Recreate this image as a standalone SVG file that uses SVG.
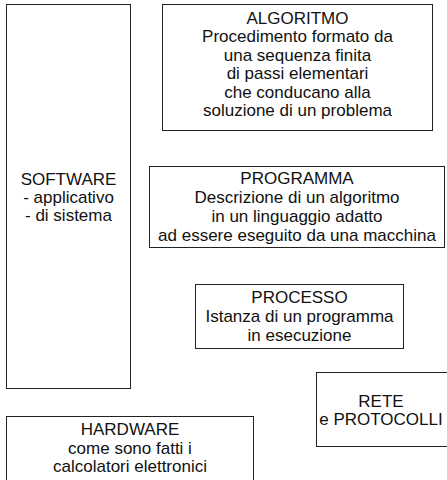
<svg xmlns="http://www.w3.org/2000/svg" width="447" height="480" viewBox="0 0 447 480">
<style>
rect{fill:#fff;stroke:#222;stroke-width:1}
text{font-family:"Liberation Sans",Arial,sans-serif;font-size:17px;fill:#111;text-anchor:middle}
</style>
<rect x="0" y="0" width="447" height="480" style="stroke:none"/>
<g id="software">
<rect x="6.5" y="4.5" width="124" height="384"/>
<text x="68.5" y="185">SOFTWARE</text>
<text x="68.5" y="203">- applicativo</text>
<text x="68.5" y="221">- di sistema</text>
</g>
<g id="algoritmo">
<rect x="162.5" y="4.5" width="270" height="126"/>
<text x="297.5" y="23.5">ALGORITMO</text>
<text x="297.5" y="42">Procedimento formato da</text>
<text x="297.5" y="60.5">una sequenza finita</text>
<text x="297.5" y="79">di passi elementari</text>
<text x="297.5" y="97.5">che conducano alla</text>
<text x="297.5" y="116">soluzione di un problema</text>
</g>
<g id="programma">
<rect x="149.5" y="166.5" width="295" height="81"/>
<text x="297" y="184">PROGRAMMA</text>
<text x="297" y="203">Descrizione di un algoritmo</text>
<text x="297" y="222">in un linguaggio adatto</text>
<text x="297" y="241">ad essere eseguito da una macchina</text>
</g>
<g id="processo">
<rect x="195.5" y="284.5" width="208" height="64"/>
<text x="299.5" y="302.5">PROCESSO</text>
<text x="299.5" y="321.5">Istanza di un programma</text>
<text x="299.5" y="341">in esecuzione</text>
</g>
<g id="rete">
<rect x="316.5" y="372.5" width="140" height="74"/>
<text x="381" y="406.5">RETE</text>
<text x="381" y="424.5">e PROTOCOLLI</text>
</g>
<g id="hardware">
<rect x="6.5" y="416.5" width="247" height="70"/>
<text x="130" y="435">HARDWARE</text>
<text x="130" y="453.5">come sono fatti i</text>
<text x="130" y="472">calcolatori elettronici</text>
</g>
<g id="connectors"/>
</svg>
